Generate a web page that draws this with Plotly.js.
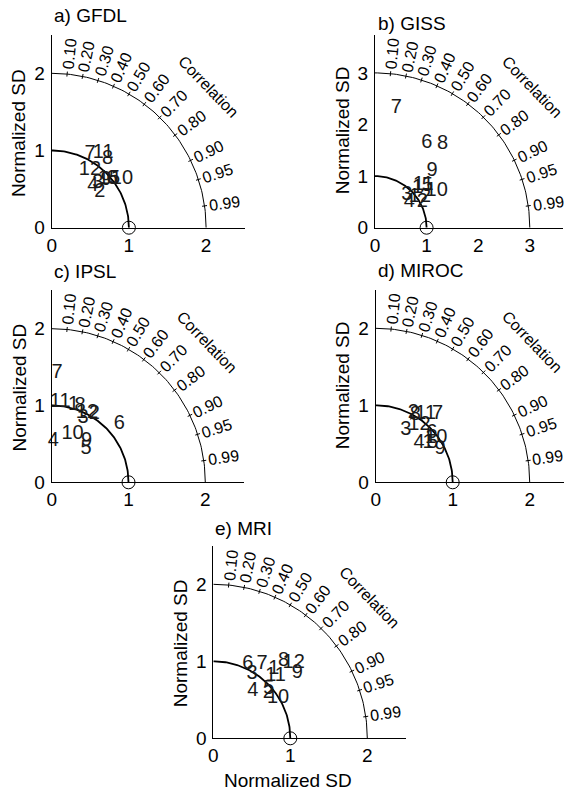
<!DOCTYPE html>
<html>
<head>
<meta charset="utf-8">
<script src="https://cdn.plot.ly/plotly-3.0.1.min.js"></script>
<style>html,body{margin:0;padding:0;background:#fff;}#chart{width:565px;height:793px;}</style>
</head>
<body>
<div id="chart"></div>
<script>
// ---------- DATA ----------
const monthLabels = ['1','2','3','4','5','6','7','8','9','10','11','12'];
const corrTicks = [0.10, 0.20, 0.30, 0.40, 0.50, 0.60, 0.70, 0.80, 0.90, 0.95, 0.99];
const corrTickText = ['0.10','0.20','0.30','0.40','0.50','0.60','0.70','0.80','0.90','0.95','0.99'];
const panelTitles = ['a) GFDL', 'b) GISS', 'c) IPSL', 'd) MIROC', 'e) MRI'];

// normalized standard deviation and correlation, months 1..12
const sdGFDL   = [0.92, 0.78, 0.83, 0.76, 1.03, 1.00, 1.08, 1.15, 0.94, 1.11, 1.17, 0.90];
const corrGFDL = [0.73, 0.80, 0.72, 0.70, 0.79, 0.78, 0.46, 0.63, 0.75, 0.82, 0.57, 0.55];
const sdGISS   = [1.13, 1.04, 0.88, 0.83, 1.30, 1.93, 2.35, 2.08, 1.56, 1.39, 1.25, 1.05];
const corrGISS = [0.73, 0.88, 0.70, 0.80, 0.78, 0.52, 0.175, 0.63, 0.71, 0.86, 0.75, 0.83];
const sdIPSL   = [1.05, 1.05, 0.93, 0.54, 0.62, 1.16, 1.42, 1.06, 0.70, 0.68, 1.05, 1.01];
const corrIPSL = [0.27, 0.53, 0.44, 0.04, 0.72, 0.76, 0.05, 0.35, 0.65, 0.40, 0.105, 0.455];
const sdMIROC   = [0.85, 1.02, 0.78, 0.76, 0.90, 0.97, 1.20, 1.01, 0.94, 0.97, 1.10, 0.94];
const corrMIROC = [0.80, 0.48, 0.50, 0.74, 0.82, 0.75, 0.67, 0.51, 0.89, 0.81, 0.59, 0.605];
const sdMRI   = [1.20, 0.93, 0.97, 0.80, 0.96, 1.07, 1.15, 1.36, 1.38, 0.99, 1.14, 1.43];
const corrMRI = [0.656, 0.77, 0.52, 0.64, 0.75, 0.42, 0.55, 0.67, 0.79, 0.85, 0.71, 0.73];
const refSD = 1;   // observation (normalized)

// ---------- LAYOUT GEOMETRY (pixels) ----------
const W = 565, H = 793;
const FONT = 'Liberation Sans, Arial, Helvetica, sans-serif';
const panels = [
  {sd: sdGFDL,  corr: corrGFDL,  x0: 51.7,  y0: 227.7, s: 77.2, xr: 2.5,  yr: 2.5,  R: 2, ticks: [0,1,2],   title: [52, 15.7],  ytitle: [18.8, 133.3]},
  {sd: sdGISS,  corr: corrGISS,  x0: 375,   y0: 227.7, s: 51.6, xr: 3.65, yr: 3.73, R: 3, ticks: [0,1,2,3], title: [376, 23],   ytitle: [342.5, 130.8]},
  {sd: sdIPSL,  corr: corrIPSL,  x0: 51.7,  y0: 482.3, s: 76.8, xr: 2.5,  yr: 2.5,  R: 2, ticks: [0,1,2],   title: [52, 271.7], ytitle: [19, 387.5]},
  {sd: sdMIROC, corr: corrMIROC, x0: 375.7, y0: 482.3, s: 77,   xr: 2.45, yr: 2.5,  R: 2, ticks: [0,1,2],   title: [376, 270.7], ytitle: [342.5, 385.8]},
  {sd: sdMRI,   corr: corrMRI,   x0: 213.3, y0: 738.3, s: 77,   xr: 2.5,  yr: 2.5,  R: 2, ticks: [0,1,2],   title: [213.3, 528.3], ytitle: [180, 643.3]}
];

const traces = [];
const annotations = [];
const layout = {
  width: W, height: H,
  margin: {l: 0, r: 0, t: 0, b: 0},
  paper_bgcolor: '#fff', plot_bgcolor: 'rgba(0,0,0,0)',
  showlegend: false,
  font: {family: FONT, color: '#000', size: 19}
};

function arc(r) {
  const xs = [], ys = [];
  for (let a = 0; a <= 90; a += 1) {
    const t = a * Math.PI / 180;
    xs.push(r * Math.cos(t)); ys.push(r * Math.sin(t));
  }
  return {xs, ys};
}

panels.forEach((p, i) => {
  const sfx = i === 0 ? '' : String(i + 1);
  const xa = 'x' + sfx, ya = 'y' + sfx;
  const axStyle = {
    showline: true, linecolor: '#000', linewidth: 1,
    showgrid: false, zeroline: false, ticks: '',
    tickfont: {family: FONT, size: 19, color: '#000'},
    tickmode: 'array', tickvals: p.ticks, ticktext: p.ticks.map(String),
    fixedrange: true
  };
  layout['xaxis' + sfx] = Object.assign({}, axStyle, {
    domain: [p.x0 / W, (p.x0 + p.xr * p.s) / W], range: [0, p.xr], anchor: ya
  });
  layout['yaxis' + sfx] = Object.assign({}, axStyle, {
    domain: [1 - p.y0 / H, 1 - (p.y0 - p.yr * p.s) / H], range: [0, p.yr], anchor: xa,
    ticklabelstandoff: 2
  });

  // reference arc (SD = 1)
  const a1 = arc(refSD);
  traces.push({x: a1.xs, y: a1.ys, xaxis: xa, yaxis: ya, mode: 'lines',
    line: {color: '#000', width: 1.8}, hoverinfo: 'skip', cliponaxis: false});
  // outer correlation arc
  const a2 = arc(p.R);
  traces.push({x: a2.xs, y: a2.ys, xaxis: xa, yaxis: ya, mode: 'lines',
    line: {color: '#000', width: 1}, hoverinfo: 'skip', cliponaxis: false});
  // correlation tick marks
  const tx = [], ty = [];
  const dl = 2.5 / p.s;
  corrTicks.forEach(c => {
    const t = Math.acos(c);
    tx.push((p.R - dl) * Math.cos(t), (p.R + dl) * Math.cos(t), null);
    ty.push((p.R - dl) * Math.sin(t), (p.R + dl) * Math.sin(t), null);
  });
  traces.push({x: tx, y: ty, xaxis: xa, yaxis: ya, mode: 'lines',
    line: {color: '#000', width: 1}, hoverinfo: 'skip', cliponaxis: false});
  // correlation labels
  const off = p.R + 20 / p.s;
  corrTicks.forEach((c, k) => {
    const t = Math.acos(c);
    annotations.push({xref: xa, yref: ya, x: off * Math.cos(t), y: off * Math.sin(t),
      text: corrTickText[k], showarrow: false, textangle: -t * 180 / Math.PI,
      xanchor: 'center', yanchor: 'middle', font: {family: FONT, size: 16, color: '#000'}});
  });
  // "Correlation" label
  const ct = 42 * Math.PI / 180, cr = p.R + 56 / p.s;
  annotations.push({xref: xa, yref: ya, x: cr * Math.cos(ct), y: cr * Math.sin(ct),
    text: 'Correlation', showarrow: false, textangle: 46,
    xanchor: 'center', yanchor: 'middle', font: {family: FONT, size: 16, color: '#000'}});
  // observation point
  traces.push({x: [refSD], y: [0], xaxis: xa, yaxis: ya, mode: 'markers',
    marker: {symbol: 'circle-open', size: 13, color: '#000', line: {width: 1}},
    hoverinfo: 'skip', cliponaxis: false});
  // model months as numbers
  traces.push({
    x: p.sd.map((s, k) => s * p.corr[k]),
    y: p.sd.map((s, k) => s * Math.sin(Math.acos(p.corr[k]))),
    xaxis: xa, yaxis: ya, mode: 'text', text: monthLabels,
    textposition: 'middle center',
    textfont: {family: FONT, size: 20, color: '#1a1a1a'}, cliponaxis: false
  });
  // panel title
  annotations.push({xref: 'paper', yref: 'paper', x: p.title[0] / W, y: 1 - p.title[1] / H,
    xanchor: 'left', yanchor: 'middle', text: panelTitles[i], showarrow: false,
    font: {family: FONT, size: 19, color: '#000'}});
  // y-axis title
  annotations.push({xref: 'paper', yref: 'paper', x: p.ytitle[0] / W, y: 1 - p.ytitle[1] / H,
    xanchor: 'center', yanchor: 'middle', text: 'Normalized SD', textangle: -90, showarrow: false,
    font: {family: FONT, size: 19, color: '#000'}});
});

// x-axis title (bottom panel only)
annotations.push({xref: 'paper', yref: 'paper', x: 288.3 / W, y: 1 - 780 / H,
  xanchor: 'center', yanchor: 'middle', text: 'Normalized SD', showarrow: false,
  font: {family: FONT, size: 19, color: '#000'}});

layout.annotations = annotations;
Plotly.newPlot('chart', traces, layout, {staticPlot: true, displayModeBar: false});
</script>
</body>
</html>
